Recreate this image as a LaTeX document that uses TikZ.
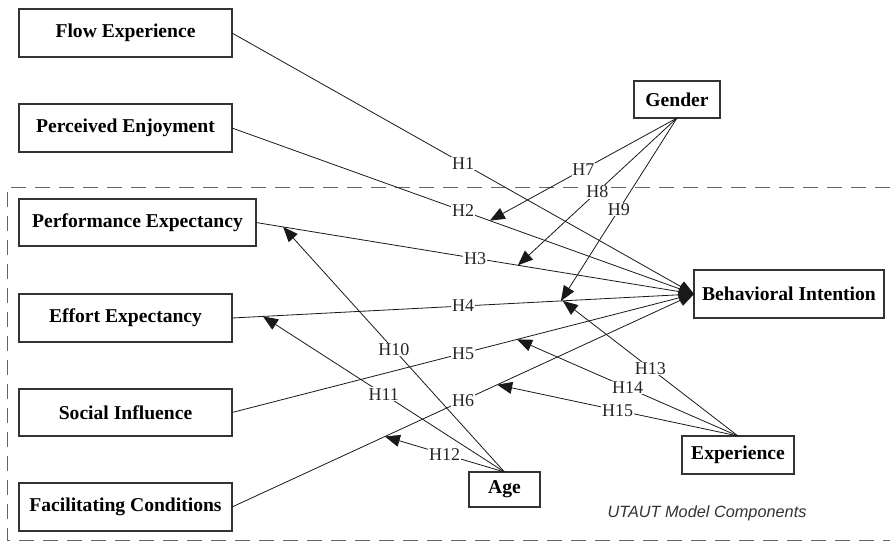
\documentclass[tikz,border=0pt]{standalone}
\usepackage{fontspec}
\setmainfont{Liberation Serif}
\newfontfamily\uisans{Liberation Sans}
\usetikzlibrary{arrows.meta}
\begin{document}
\begin{tikzpicture}[x=1pt,y=-1pt,
 box/.style={draw=black!80, line width=1.1pt, inner sep=0pt, outer sep=0pt, font=\fontsize{19.6}{22}\selectfont\bfseries, align=center},
 link/.style={draw=black!90, line width=0.8pt, -{Triangle[length=15pt,width=12pt]}},
 lbl/.style={midway, fill=white, inner sep=0.8pt, font=\fontsize{18}{20}\selectfont, text=black!85},
 frame/.style={draw=black!60, line width=1pt, dash pattern=on 15pt off 9pt}]
\useasboundingbox (0,0) rectangle (890,542);
\clip (0,0) rectangle (890,542);
\fill[white] (0,0) rectangle (890,542);
\draw[frame] (890,187) -- (7,187) -- (7,540) -- (890,540);

\node[box, minimum width=213pt, minimum height=48pt] (fe) at (125.5,33) {Flow Experience};
\node[box, minimum width=213pt, minimum height=48pt] (pe) at (125.5,128) {Perceived Enjoyment};
\node[box, minimum width=237pt, minimum height=47pt] (pf) at (137.5,222.5) {Performance Expectancy};
\node[box, minimum width=213pt, minimum height=48pt] (ee) at (125.5,318) {Effort Expectancy};
\node[box, minimum width=213pt, minimum height=47pt] (si) at (125.5,412.5) {Social Influence};
\node[box, minimum width=213pt, minimum height=48pt] (fc) at (125.5,507) {Facilitating Conditions};
\node[box, minimum width=86pt, minimum height=37pt] (gd) at (677,99.5) {Gender};
\node[box, minimum width=190pt, minimum height=48pt] (bi) at (789,294) {Behavioral Intention};
\node[box, minimum width=112pt, minimum height=38pt] (ex) at (738,455) {Experience};
\node[box, minimum width=71pt, minimum height=35pt] (ag) at (504.5,489.5) {Age};
\node[font=\uisans\itshape\fontsize{16.3}{18}\selectfont, text=black!80] (cap) at (707,513) {UTAUT Model Components};

\draw[link] (fe.east) -- node[lbl](h1){H1} (bi.west);
\draw[link] (pe.east) -- coordinate[pos=0.558](t7) node[lbl](h2){H2} (bi.west);
\draw[link] (pf.east) -- coordinate[pos=0.062](t10) coordinate[pos=0.598](t8) node[lbl](h3){H3} (bi.west);
\draw[link] (ee.east) -- coordinate[pos=0.067](t11) coordinate[pos=0.712](t9) coordinate[pos=0.716](t13) node[lbl](h4){H4} (bi.west);
\draw[link] (si.east) -- coordinate[pos=0.617](t14) node[lbl](h5){H5} (bi.west);
\draw[link] (fc.east) -- coordinate[pos=0.331](t12) coordinate[pos=0.574](t15) node[lbl](h6){H6} (bi.west);

\draw[link] (gd.south) -- node[lbl](h7){H7} (t7);
\draw[link] (gd.south) -- node[lbl](h8){H8} (t8);
\draw[link] (gd.south) -- node[lbl](h9){H9} (t9);
\draw[link] (ag.north) -- node[lbl](h10){H10} (t10);
\draw[link] (ag.north) -- node[lbl](h11){H11} (t11);
\draw[link] (ag.north) -- node[lbl](h12){H12} (t12);
\draw[link] (ex.north) -- node[lbl](h13){H13} (t13);
\draw[link] (ex.north) -- node[lbl](h14){H14} (t14);
\draw[link] (ex.north) -- node[lbl](h15){H15} (t15);
\end{tikzpicture}
\end{document}
